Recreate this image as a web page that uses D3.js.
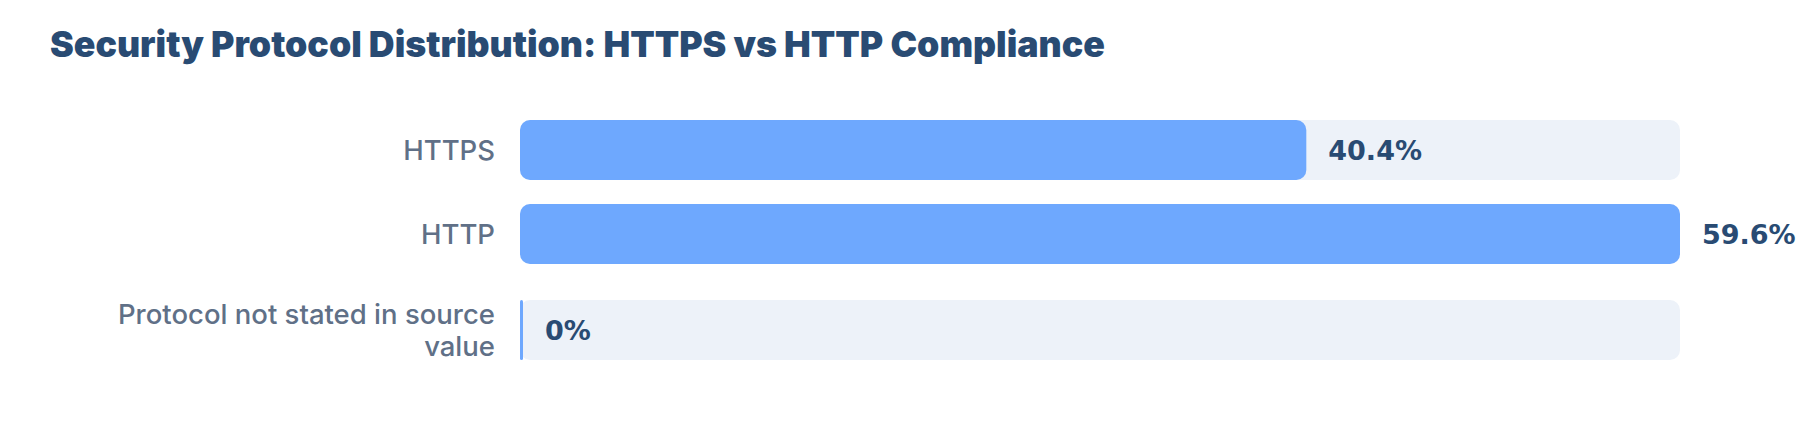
<!DOCTYPE html>
<html>
<head>
<meta charset="utf-8">
<script src="https://cdn.jsdelivr.net/npm/d3@7"></script>
<style>
  html, body { margin: 0; padding: 0; background: #fff; }
  svg { display: block; }
</style>
</head>
<body>
<div id="chart"></div>
<script>
(function () {
    'use strict';

    // data
    var categories = ["HTTPS", "HTTP", "Protocol not stated in source value"];
    var shares = [40.4, 59.6, 0];
    var valueLabels = ["40.4%", "59.6%", "0%"];
    var chartTitle = "Security Protocol Distribution: HTTPS vs HTTP Compliance";

    var width = 1800, height = 428;
    var barLeft = 520, barRight = 1680;
    var barHeight = 60, rowGap = 24, lineHeight = 32, labelMax = 405;

    var svg = d3.select("#chart")
        .append("svg")
        .attr("width", width)
        .attr("height", height);

    svg.append("text")
        .attr("x", 50)
        .attr("y", 57)
        .attr("fill", "#294b73")
        .style("font-family", "Inter, sans-serif")
        .style("font-weight", 900)
        .style("font-size", "35.7px")
        .text(chartTitle);

    var x = d3.scaleLinear()
        .domain([0, d3.max(shares)])
        .range([0, barRight - barLeft]);

    // category labels first, so wrapped rows can be made taller
    var rows = categories.map(function (c, i) {
        return {cat: c, value: shares[i], label: valueLabels[i]};
    });

    var labelG = svg.append("g");
    rows.forEach(function (d) {
        var t = labelG.append("text")
            .attr("text-anchor", "end")
            .attr("fill", "#607087")
            .style("font-family", "Inter, sans-serif")
            .style("font-weight", 500)
            .style("font-size", "27.5px");
        var words = d.cat.split(" "), line = [], lines = [];
        words.forEach(function (w) {
            line.push(w);
            t.text(line.join(" "));
            if (t.node().getComputedTextLength() > labelMax && line.length > 1) {
                line.pop();
                lines.push(line.join(" "));
                line = [w];
            }
        });
        lines.push(line.join(" "));
        t.text(null);
        d.lines = lines;
        d.node = t;
    });

    var y = 120;
    rows.forEach(function (d) {
        var h = d.lines.length > 1 ? barHeight + rowGap : barHeight;
        d.cy = y + h / 2;
        y += h + rowGap;
    });

    rows.forEach(function (d) {
        var first = d.cy - (d.lines.length - 1) * lineHeight / 2;
        d.node.selectAll("tspan")
            .data(d.lines)
            .enter()
            .append("tspan")
            .attr("x", 495)
            .attr("y", function (l, j) { return first + j * lineHeight; })
            .attr("dy", "0.36em")
            .text(function (l) { return l; });
    });

    // track
    svg.selectAll("rect.track")
        .data(rows)
        .enter()
        .append("rect")
        .attr("class", "track")
        .attr("x", barLeft)
        .attr("y", function (d) { return d.cy - barHeight / 2; })
        .attr("width", x.range()[1])
        .attr("height", barHeight)
        .attr("rx", 10)
        .attr("fill", "#edf2f9");

    function barW(d) { return Math.max(3, x(d.value)); }

    svg.selectAll("rect.bar")
        .data(rows)
        .enter()
        .append("rect")
        .attr("class", "bar")
        .attr("x", barLeft)
        .attr("y", function (d) { return d.cy - barHeight / 2; })
        .attr("width", barW)
        .attr("height", barHeight)
        .attr("rx", function (d) { return Math.min(10, barW(d) / 2); })
        .attr("fill", "#6ea8fe");

    svg.selectAll("text.value")
        .data(rows)
        .enter()
        .append("text")
        .attr("class", "value")
        .attr("x", function (d) { return barLeft + barW(d) + 22; })
        .attr("y", function (d) { return d.cy; })
        .attr("dy", "0.36em")
        .attr("fill", "#294b73")
        .style("font-family", "'DejaVu Sans', sans-serif")
        .style("font-weight", 700)
        .style("font-size", "27px")
        .text(function (d) { return d.label; });
}());
</script>
</body>
</html>
